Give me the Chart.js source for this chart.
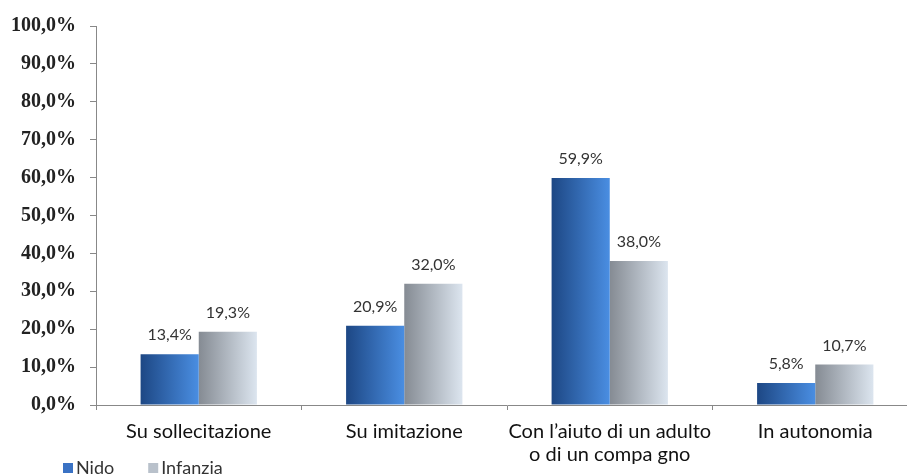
<!DOCTYPE html>
<html>
<head>
<meta charset="utf-8">
<script src="https://cdn.jsdelivr.net/npm/chart.js@4"></script>
<style>
  body { margin: 0; overflow: hidden; background: #fff; }
  #contenitore { width: 918px; height: 476px; }
</style>
</head>
<body>
<div id="contenitore"><canvas id="grafico"></canvas></div>
<script>
// dati
const categorie = ['Su sollecitazione', 'Su imitazione', ['Con l’aiuto di un adulto', 'o di un compa gno'], 'In autonomia'];
const valoriNido = [13.4, 20.9, 59.9, 5.8];
const valoriInfanzia = [19.3, 32.0, 38.0, 10.7];
const nomiSerie = ['Nido', 'Infanzia'];
const coloriLegenda = ['#3a72c4', '#b9c1cb'];

const percentualeCategoria = 0.566;

function formatta(v) {
    return v.toFixed(1).replace('.', ',') + '%';
}

// sfumatura orizzontale per ogni barra
function sfumatura(chart, indice, serie, coloreA, coloreB) {
    const asse = chart.scales.x;
    if (!asse || !chart.chartArea) return coloreB;
    const centro = asse.getPixelForValue(indice);
    const larghezza = (asse.width / categorie.length) * percentualeCategoria / 2;
    const inizio = serie === 0 ? centro - larghezza : centro;
    const g = chart.ctx.createLinearGradient(inizio, 0, inizio + larghezza, 0);
    g.addColorStop(0, coloreA);
    g.addColorStop(1, coloreB);
    return g;
}

// etichette sopra le barre
const etichette = {
    id: 'etichette',
    afterDatasetsDraw(chart) {
        const ctx = chart.ctx;
        ctx.save();
        ctx.font = '16px Lato';
        ctx.fillStyle = '#333';
        ctx.textAlign = 'center';
        ctx.textBaseline = 'bottom';
        chart.data.datasets.forEach((ds, i) => {
            chart.getDatasetMeta(i).data.forEach((barra, j) => {
                ctx.fillText(formatta(ds.data[j]), barra.x, barra.y - 11);
            });
        });
        ctx.restore();
    }
};

// legenda disegnata a mano in basso a sinistra
const legenda = {
    id: 'legenda',
    afterDraw(chart) {
        const ctx = chart.ctx;
        let x = chart.chartArea.left - 33;
        const y = chart.height - 8;
        ctx.save();
        ctx.font = '18px Lato';
        ctx.textBaseline = 'middle';
        nomiSerie.forEach((nome, i) => {
            ctx.fillStyle = coloriLegenda[i];
            ctx.fillRect(x, y - 5, 10, 10);
            ctx.fillStyle = '#333';
            ctx.fillText(nome, x + 13, y);
            x += 13 + ctx.measureText(nome).width + 34;
        });
        ctx.restore();
    }
};

new Chart(document.getElementById('grafico'), {
    type: 'bar',
    data: {
        labels: categorie,
        datasets: [{
            label: nomiSerie[0],
            data: valoriNido,
            backgroundColor: (c) => sfumatura(c.chart, c.dataIndex, 0, '#1d4784', '#4a8ee2')
        }, {
            label: nomiSerie[1],
            data: valoriInfanzia,
            backgroundColor: (c) => sfumatura(c.chart, c.dataIndex, 1, '#858b93', '#dce5ef')
        }]
    },
    options: {
        responsive: true,
        maintainAspectRatio: false,
        animation: false,
        categoryPercentage: percentualeCategoria,
        barPercentage: 1,
        layout: { padding: { top: 24, right: 0, left: 0, bottom: 0 } },
        scales: {
            x: {
                grid: { drawOnChartArea: false, color: '#888', tickLength: 5 },
                border: { color: '#888' },
                ticks: { color: '#111', font: { family: 'Lato', size: 20, lineHeight: 1.15 }, padding: 10, maxRotation: 0, autoSkip: false }
            },
            y: {
                min: 0,
                max: 100,
                afterFit(scala) { scala.width = 96; },
                grid: { drawOnChartArea: false, color: '#888', tickLength: 6 },
                border: { color: '#888' },
                ticks: {
                    stepSize: 10,
                    padding: 14,
                    color: '#222',
                    font: { family: 'Liberation Serif', size: 20, weight: 'bold' },
                    callback: (v) => formatta(v)
                }
            }
        },
        plugins: {
            tooltip: { enabled: false },
            legend: { display: false }
        }
    },
    plugins: [etichette, legenda]
});
</script>
</body>
</html>
